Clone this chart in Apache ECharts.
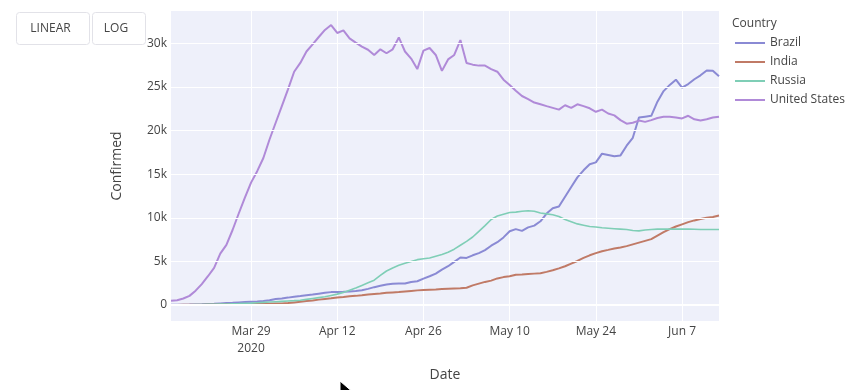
<!DOCTYPE html>
<html>
<head>
<meta charset="utf-8">
<script src="https://cdn.jsdelivr.net/npm/echarts@6/dist/echarts.min.js"></script>
<style>
html,body{margin:0;padding:0;background:#fff;}
#chart{width:868px;height:390px;}
</style>
</head>
<body>
<div id="chart"></div>
<script>
// ---- data ----
const startDate = '2020-03-16';
const dayCount = 90;
const countries = ['Brazil', 'India', 'Russia', 'United States'];
const brazil = [20,30,40,50,70,90,120,150,190,230,260,300,340,380,410,450,550,680,760,850,
  950,1030,1120,1200,1300,1400,1480,1500,1520,1550,1600,1700,1850,2050,2200,2350,2450,2470,2460,2650,
  2730,3030,3300,3600,4050,4450,4950,5450,5400,5700,5950,6300,6800,7200,7750,8450,8700,8500,8900,9100,
  9600,10490,11100,11300,12410,13520,14630,15440,16140,16350,17350,17200,17050,17150,18260,19170,21490,21590,21690,23310,
  24520,25230,25830,24920,25330,25880,26330,26890,26840,26230];
const india = [10,15,20,25,30,40,50,60,70,80,90,100,110,120,130,140,150,170,190,220,
  300,380,450,520,620,700,780,870,930,1000,1050,1120,1200,1270,1330,1400,1450,1500,1560,1620,
  1680,1720,1750,1780,1830,1880,1900,1920,1980,2250,2450,2650,2800,3050,3200,3300,3480,3500,3550,3600,
  3650,3800,3980,4200,4450,4750,5050,5400,5700,5950,6170,6320,6480,6600,6750,6950,7150,7350,7550,7950,
  8350,8700,9000,9250,9500,9700,9850,10000,10100,10260];
const russia = [20,25,30,40,50,60,70,80,100,120,140,160,190,220,260,300,340,380,420,460,
  500,550,650,750,850,950,1100,1250,1450,1700,1950,2250,2550,2850,3400,3900,4250,4550,4800,5000,
  5200,5300,5400,5600,5800,6050,6400,6850,7300,7800,8450,9100,9800,10200,10400,10600,10650,10750,10800,10750,
  10550,10450,10350,10150,9800,9550,9300,9150,9000,8950,8850,8800,8750,8700,8650,8550,8500,8600,8650,8700,
  8700,8700,8700,8700,8700,8680,8650,8650,8650,8650];
const unitedStates = [500,550,750,1050,1650,2400,3300,4250,5900,6900,8600,10490,12310,14030,15340,16850,18970,20890,22800,24720,
  26740,27750,29060,29870,30720,31530,32090,31180,31480,30570,30070,29610,29260,28660,29310,28860,29310,30670,29060,28250,
  27040,29160,29460,28660,26840,28150,28660,30370,27750,27550,27440,27440,27040,26740,25830,25230,24570,23960,23610,23210,
  23010,22800,22600,22400,22900,22600,23010,22800,22550,22150,22400,21950,21740,21190,20790,20890,21140,20990,21190,21440,
  21590,21590,21490,21390,21690,21290,21140,21290,21490,21590];
const xTickIndices = [13, 27, 41, 55, 69, 83];
const xTickLabels = ['Mar 29\n2020', 'Apr 12', 'Apr 26', 'May 10', 'May 24', 'Jun 7'];
const yTickValues = [0, 5000, 10000, 15000, 20000, 25000, 30000];
const yTickLabels = ['0', '5k', '10k', '15k', '20k', '25k', '30k'];
const colors = ['#8a8ad4', '#c07a66', '#7fceb6', '#b08ad8'];

// ---- build ----
const dates = [];
(function(){
  const d0 = new Date(startDate + 'T00:00:00Z');
  for (let i = 0; i < dayCount; i++) {
    const d = new Date(d0.getTime() + i * 86400000);
    dates.push(d.toISOString().slice(0, 10));
  }
})();
const seriesValues = [brazil, india, russia, unitedStates];
const FONT = '"Open Sans", "Noto Sans", sans-serif';
const TXT = '#444';

const chart = echarts.init(document.getElementById('chart'), null, {renderer: 'canvas'});

const gridMarks = yTickValues.map((v, k) => ({
  yAxis: v,
  lineStyle: {color: '#ffffff', width: v === 0 ? 2 : 1, type: 'solid'},
  label: {show: true, position: 'start', formatter: yTickLabels[k], color: TXT, fontSize: 12, fontFamily: FONT, distance: 4}
}));

const series = [{
  name: '__grid',
  type: 'line',
  data: dates.map(() => null),
  z: 1,
  silent: true,
  showSymbol: false,
  lineStyle: {width: 0},
  markLine: {silent: true, symbol: ['none', 'none'], animation: false, data: gridMarks}
}];
countries.forEach((c, k) => {
  series.push({
    name: c,
    type: 'line',
    data: seriesValues[k],
    showSymbol: false,
    symbol: 'none',
    z: 3,
    lineStyle: {color: colors[k], width: k === 2 ? 1.6 : 2},
    itemStyle: {color: colors[k]},
    animation: false
  });
});

chart.setOption({
  animation: false,
  textStyle: {fontFamily: FONT},
  grid: {left: 171, right: 149, top: 11, bottom: 69, show: true, backgroundColor: '#eef0fa', borderWidth: 0, containLabel: false},
  legend: {
    orient: 'vertical', left: 735, top: 36, padding: 0,
    data: countries.map(c => ({name: c, icon: 'rect'})),
    itemWidth: 30, itemHeight: 2, itemGap: 5,
    textStyle: {color: TXT, fontSize: 12, fontFamily: FONT, lineHeight: 14, padding: [0, 0, 0, 0]},
    selectedMode: false
  },
  xAxis: {
    type: 'category',
    data: dates,
    boundaryGap: false,
    name: 'Date',
    nameLocation: 'middle',
    nameGap: 47,
    nameTextStyle: {color: TXT, fontSize: 14, fontFamily: FONT},
    axisLine: {show: false},
    axisTick: {show: false},
    axisLabel: {
      interval: (idx) => xTickIndices.indexOf(idx) >= 0,
      formatter: (val, idx) => { const k = xTickIndices.indexOf(idx); return k >= 0 ? xTickLabels[k] : ''; },
      color: TXT, fontSize: 12, fontFamily: FONT, margin: 2, lineHeight: 17
    },
    splitLine: {show: true, interval: (idx) => xTickIndices.indexOf(idx) >= 0, lineStyle: {color: '#ffffff', width: 1}}
  },
  yAxis: {
    type: 'value',
    min: -1830,
    max: 33700,
    name: 'Confirmed',
    nameLocation: 'middle',
    nameGap: 47,
    nameRotate: 90,
    nameTextStyle: {color: TXT, fontSize: 14, fontFamily: FONT},
    axisLine: {show: false},
    axisTick: {show: false},
    axisLabel: {show: false},
    splitLine: {show: false}
  },
  graphic: [
    {type: 'text', x: 732, y: 24, style: {text: 'Country', fill: TXT, font: '12px ' + FONT, verticalAlign: 'middle'}},
    {type: 'rect', shape: {x: 16.5, y: 12.5, width: 73, height: 32, r: 3}, style: {fill: '#fff', stroke: '#e2e2e8', lineWidth: 1}},
    {type: 'text', x: 50.5, y: 28.5, style: {text: 'LINEAR', fill: TXT, font: '12px ' + FONT, align: 'center', verticalAlign: 'middle'}},
    {type: 'rect', shape: {x: 92.5, y: 12.5, width: 53, height: 32, r: 3}, style: {fill: '#fff', stroke: '#e2e2e8', lineWidth: 1}},
    {type: 'text', x: 116, y: 28.5, style: {text: 'LOG', fill: TXT, font: '12px ' + FONT, align: 'center', verticalAlign: 'middle'}},
    {type: 'polygon', shape: {points: [[340, 381], [340, 395], [343.5, 391.5], [346, 397], [348.5, 396], [346, 390.5], [351, 390.5]]}, style: {fill: '#000', stroke: '#fff', lineWidth: 1}}
  ],
  series: series
});
</script>
</body>
</html>
